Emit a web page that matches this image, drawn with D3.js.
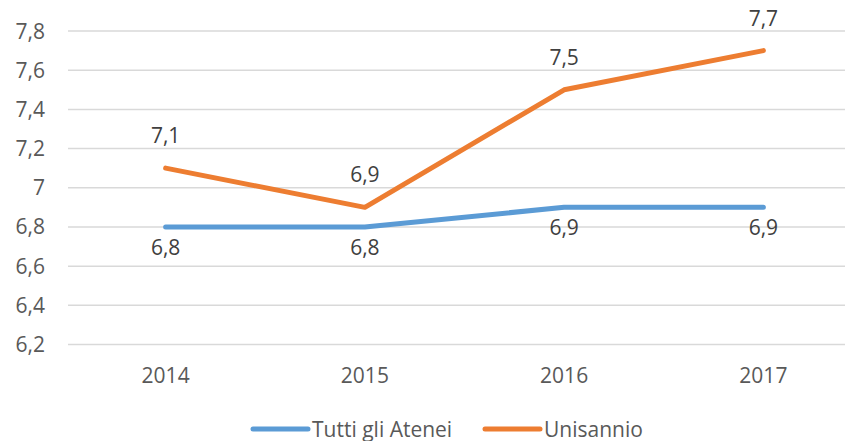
<!DOCTYPE html>
<html>
<head>
<meta charset="utf-8">
<script src="https://cdn.jsdelivr.net/npm/d3@7"></script>
<style>
  html, body { margin: 0; padding: 0; background: #fff; }
  svg { display: block; font-family: "Open Sans", sans-serif; }
  .tick-label { fill: #595959; font-size: 21px; }
  .data-label { fill: #404040; font-size: 21px; }
  .legend-label { fill: #595959; font-size: 21px; }
</style>
</head>
<body>
<svg id="chart"></svg>
<script>
const width = 845;
const height = 441;

const years = ["2014", "2015", "2016", "2017"];
const tuttiGliAtenei = [6.8, 6.8, 6.9, 6.9];
const unisannio = [7.1, 6.9, 7.5, 7.7];
const yTicks = [6.2, 6.4, 6.6, 6.8, 7, 7.2, 7.4, 7.6, 7.8];

const series = [
  { name: "Tutti gli Atenei", values: tuttiGliAtenei, color: "#5B9BD5", labelPos: "below" },
  { name: "Unisannio", values: unisannio, color: "#ED7D31", labelPos: "above" },
];

const fmt = (v) => String(v).replace(".", ",");

const svg = d3.select("#chart").attr("width", width).attr("height", height);

const x = d3.scaleBand().domain(years).range([66, 863]);
const y = d3.scaleLinear().domain([6.2, 7.8]).range([344.5, 31]);
const cx = (d) => x(d) + x.bandwidth() / 2;

// gridlines
svg
  .append("g")
  .selectAll("line")
  .data(yTicks)
  .join("line")
  .attr("x1", 68)
  .attr("x2", width)
  .attr("y1", (d) => y(d))
  .attr("y2", (d) => y(d))
  .attr("stroke", "#d9d9d9")
  .attr("stroke-width", 1.5);

// y tick labels
svg
  .append("g")
  .selectAll("text")
  .data(yTicks)
  .join("text")
  .attr("class", "tick-label")
  .attr("x", 45)
  .attr("y", (d) => y(d) + 7.5)
  .attr("text-anchor", "end")
  .text(fmt);

// x tick labels
svg
  .append("g")
  .selectAll("text")
  .data(years)
  .join("text")
  .attr("class", "tick-label")
  .attr("x", cx)
  .attr("y", 383)
  .attr("text-anchor", "middle")
  .text((d) => d);

const line = d3
  .line()
  .x((d, i) => cx(years[i]))
  .y((d) => y(d));

series.forEach((s) => {
  svg
    .append("path")
    .attr("d", line(s.values))
    .attr("fill", "none")
    .attr("stroke", s.color)
    .attr("stroke-width", 5)
    .attr("stroke-linecap", "round")
    .attr("stroke-linejoin", "round");
});

series.forEach((s) => {
  svg
    .append("g")
    .selectAll("text")
    .data(s.values)
    .join("text")
    .attr("class", "data-label")
    .attr("x", (d, i) => cx(years[i]))
    .attr("y", (d) => (s.labelPos === "above" ? y(d) - 25 : y(d) + 28))
    .attr("text-anchor", "middle")
    .text(fmt);
});

// legend
const legendItems = [
  { name: series[0].name, color: series[0].color, x: 253 },
  { name: series[1].name, color: series[1].color, x: 485 },
];
const lg = svg.append("g").attr("transform", "translate(0,429)");
legendItems.forEach((d) => {
  lg.append("line")
    .attr("x1", d.x)
    .attr("x2", d.x + 55)
    .attr("y1", 0)
    .attr("y2", 0)
    .attr("stroke", d.color)
    .attr("stroke-width", 5)
    .attr("stroke-linecap", "round");
  lg.append("text")
    .attr("class", "legend-label")
    .attr("x", d.x + 59)
    .attr("y", 7.5)
    .text(d.name);
});
</script>
</body>
</html>
